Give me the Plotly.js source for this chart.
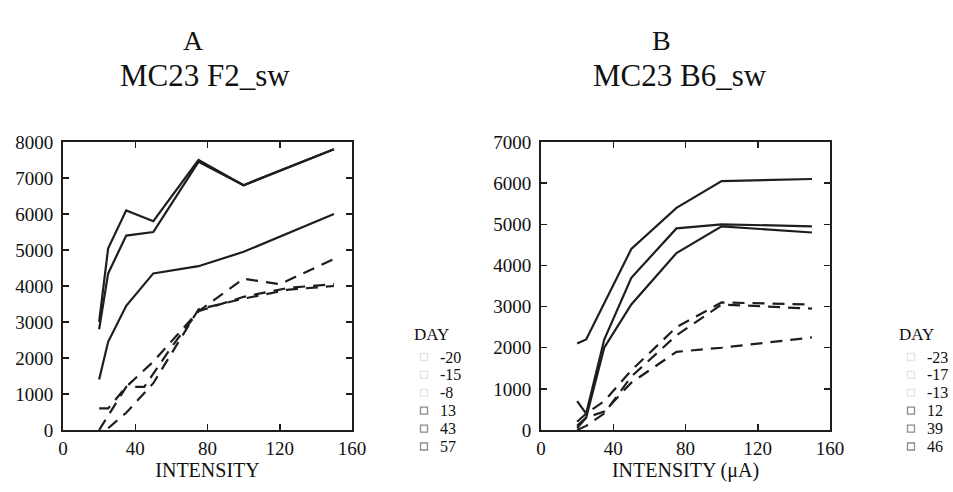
<!DOCTYPE html>
<html>
<head>
<meta charset="utf-8">
<script src="https://cdn.plot.ly/plotly-3.0.1.min.js"></script>
<style>html,body{margin:0;padding:0;background:#fff;}#chart{width:953px;height:492px;}</style>
</head>
<body>
<div id="chart"></div>
<script>
// ---- Panel A: MC23 F2_sw ----
const daysA = ["-20", "-15", "-8", "13", "43", "57"];
const xA_m20 = [20, 25, 35, 50, 75, 100, 150];
const yA_m20 = [3000, 5050, 6100, 5800, 7500, 6800, 7800];
const xA_m15 = [20, 25, 35, 50, 75, 100, 150];
const yA_m15 = [2800, 4350, 5400, 5500, 7450, 6800, 7800];
const xA_m8  = [20, 25, 35, 50, 75, 100, 150];
const yA_m8  = [1400, 2450, 3450, 4350, 4550, 4950, 6000];
const xA_13  = [20, 25, 35, 50, 75, 100, 120, 150];
const yA_13  = [600, 600, 1200, 1900, 3300, 4200, 4050, 4750];
const xA_43  = [20, 35, 45, 60, 75, 100, 125, 150];
const yA_43  = [0, 1200, 1200, 2300, 3300, 3700, 3950, 4050];
const xA_57  = [25, 35, 50, 75, 100, 125, 150];
const yA_57  = [50, 480, 1300, 3350, 3650, 3900, 4000];

// ---- Panel B: MC23 B6_sw ----
const daysB = ["-23", "-17", "-13", "12", "39", "46"];
const xB_m23 = [20, 25, 50, 75, 100, 150];
const yB_m23 = [2100, 2200, 4400, 5400, 6050, 6100];
const xB_m17 = [20, 25, 35, 50, 75, 100, 150];
const yB_m17 = [700, 400, 2200, 3700, 4900, 5000, 4950];
const xB_m13 = [20, 25, 35, 50, 75, 100, 150];
const yB_m13 = [50, 300, 2000, 3050, 4300, 4950, 4800];
const xB_12  = [20, 25, 35, 50, 75, 100, 150];
const yB_12  = [200, 400, 700, 1450, 2500, 3100, 3050];
const xB_39  = [20, 25, 35, 50, 75, 100, 150];
const yB_39  = [0, 100, 400, 1300, 2300, 3050, 2950];
const xB_46  = [20, 25, 35, 50, 75, 100, 150];
const yB_46  = [100, 300, 450, 1150, 1900, 2000, 2250];

// tick labels
const xTickVals = [0, 40, 80, 120, 160];
const yTickValsA = [0, 1000, 2000, 3000, 4000, 5000, 6000, 7000, 8000];
const yTickValsB = [0, 1000, 2000, 3000, 4000, 5000, 6000, 7000];

const W = 953, H = 492;
const INK = "#1e1e1e";
const SERIF = "Liberation Serif";
const DASH = "12px,8px";

function line(x, y, name, dashed, xa, ya) {
  return {x: x, y: y, name: name, type: "scatter", mode: "lines",
    xaxis: xa, yaxis: ya, showlegend: false, hoverinfo: "skip",
    line: {color: INK, width: 2.2, dash: dashed ? DASH : "solid"}};
}

const traces = [
  line(xA_m20, yA_m20, daysA[0], false, "x", "y"),
  line(xA_m15, yA_m15, daysA[1], false, "x", "y"),
  line(xA_m8,  yA_m8,  daysA[2], false, "x", "y"),
  line(xA_13,  yA_13,  daysA[3], true,  "x", "y"),
  line(xA_43,  yA_43,  daysA[4], true,  "x", "y"),
  line(xA_57,  yA_57,  daysA[5], true,  "x", "y"),
  line(xB_m23, yB_m23, daysB[0], false, "x2", "y2"),
  line(xB_m17, yB_m17, daysB[1], false, "x2", "y2"),
  line(xB_m13, yB_m13, daysB[2], false, "x2", "y2"),
  line(xB_12,  yB_12,  daysB[3], true,  "x2", "y2"),
  line(xB_39,  yB_39,  daysB[4], true,  "x2", "y2"),
  line(xB_46,  yB_46,  daysB[5], true,  "x2", "y2")
];

const axisCommon = {
  showgrid: false, zeroline: false, showline: true, linecolor: INK, linewidth: 2,
  mirror: "ticks", ticks: "inside", ticklen: 6, tickwidth: 1.5, tickcolor: INK,
  tickfont: {family: SERIF, size: 19, color: "#111"}, fixedrange: true, automargin: false
};
const yDom = [0.126, 0.7114];

// helpers for paper positions in pixels
const px = v => v / W;
const py = v => (H - v) / H;

const annotations = [
  {text: "A", x: px(193), y: py(40)},
  {text: "MC23 F2_sw", x: px(205), y: py(75)},
  {text: "B", x: px(661), y: py(40)},
  {text: "MC23 B6_sw", x: px(680), y: py(75)}
].map((a, i) => Object.assign(a, {xref: "paper", yref: "paper", showarrow: false,
  xanchor: "center", yanchor: "middle",
  font: {family: SERIF, size: i % 2 === 0 ? 28 : 31, color: "#111"}}));

const shapes = [];
function legendBlock(labels, titleX, symX, textX) {
  annotations.push({text: "DAY", x: px(titleX), y: py(334), xref: "paper", yref: "paper",
    showarrow: false, xanchor: "center", yanchor: "middle", borderpad: 0,
    font: {family: SERIF, size: 17, color: "#111"}});
  labels.forEach((lab, i) => {
    const yc = 357 + i * 17.9;
    annotations.push({text: lab, x: px(textX), y: py(yc), xref: "paper", yref: "paper",
      showarrow: false, xanchor: "left", yanchor: "middle", borderpad: 0,
      font: {family: SERIF, size: 16, color: "#111"}});
    shapes.push({type: "rect", xref: "paper", yref: "paper",
      x0: px(symX - 3.5), x1: px(symX + 3.5), y0: py(yc + 3.5), y1: py(yc - 3.5),
      line: {color: i < 3 ? "#e4e4e4" : "#8c8c8c", width: 1.3}, fillcolor: "rgba(0,0,0,0)"});
  });
}
legendBlock(daysA, 431, 424, 439);
legendBlock(daysB, 916, 911, 926);

const layout = {
  width: W, height: H,
  margin: {l: 0, r: 0, t: 0, b: 0},
  paper_bgcolor: "#fff", plot_bgcolor: "#fff",
  showlegend: false,
  xaxis: Object.assign({}, axisCommon, {domain: [px(63), px(352)], range: [0, 160],
    tickvals: xTickVals, anchor: "y",
    title: {text: "INTENSITY", font: {family: SERIF, size: 20, color: "#111"}, standoff: 4}}),
  yaxis: Object.assign({}, axisCommon, {domain: yDom, range: [0, 8000],
    tickvals: yTickValsA, anchor: "x", ticklabelstandoff: 4}),
  xaxis2: Object.assign({}, axisCommon, {domain: [px(541), px(830)], range: [0, 160],
    tickvals: xTickVals, anchor: "y2",
    title: {text: "INTENSITY (μA)", font: {family: SERIF, size: 20, color: "#111"}, standoff: 4}}),
  yaxis2: Object.assign({}, axisCommon, {domain: yDom, range: [0, 7000],
    tickvals: yTickValsB, anchor: "x2", ticklabelstandoff: 4}),
  annotations: annotations,
  shapes: shapes
};

Plotly.newPlot("chart", traces, layout, {displayModeBar: false, staticPlot: true});
</script>
</body>
</html>
